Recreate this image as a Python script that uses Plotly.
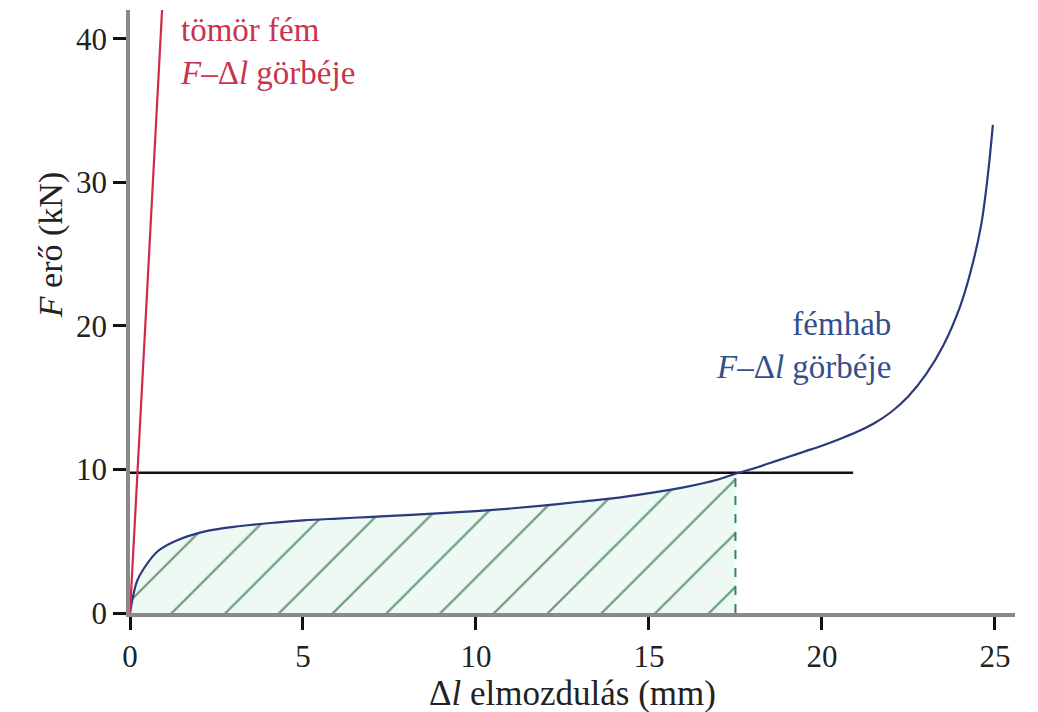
import plotly.graph_objects as go

# Data
foam_dl = [0, 0.1, 0.2, 0.4, 0.8, 1.3, 2.2, 3.2, 4.2, 5, 6, 7, 8, 9, 10, 11, 12, 13, 14, 15, 16, 17, 17.5,
           18, 18.5, 19, 19.5, 20, 20.5, 21, 21.5, 22, 22.5, 23, 23.5, 24, 24.3, 24.6, 24.8, 24.94]
foam_F = [0, 1.3, 2.2, 3.1, 4.3, 5.0, 5.7, 6.06, 6.3, 6.45, 6.58, 6.7, 6.82, 6.95, 7.1, 7.28, 7.5, 7.75, 8.0, 8.35, 8.75, 9.3, 9.7,
          10.05, 10.45, 10.85, 11.25, 11.65, 12.1, 12.6, 13.2, 14.0, 15.1, 16.6, 18.6, 21.4, 23.8, 27.0, 30.6, 34.0]
solid_dl = [0, 0.96]
solid_F = [0, 43.5]
level_F = 9.76
level_end = 20.9
energy_end = 17.5

x_ticks = [0, 5, 10, 15, 20, 25]
y_ticks = [0, 10, 20, 30, 40]

FONT = "Liberation Serif"

fill_x = [x for x in foam_dl if x <= energy_end]
fill_y = [y for x, y in zip(foam_dl, foam_F) if x <= energy_end]

fig = go.Figure()

fig.add_trace(go.Scatter(
    x=fill_x, y=fill_y, mode="lines", line=dict(width=0, shape="spline"),
    fill="tozeroy",
    fillpattern=dict(shape="/", fgcolor="#6a9a82", fgopacity=1, bgcolor="#eef9f4", size=38, solidity=0.06),
    hoverinfo="skip", showlegend=False))

fig.add_trace(go.Scatter(
    x=[0, level_end], y=[level_F, level_F], mode="lines",
    line=dict(color="#111111", width=2.5), showlegend=False))

fig.add_trace(go.Scatter(
    x=[energy_end, energy_end], y=[0, level_F], mode="lines",
    line=dict(color="#2f8a5c", width=2, dash="dash"), showlegend=False))

fig.add_trace(go.Scatter(
    x=foam_dl, y=foam_F, mode="lines",
    line=dict(color="#2b3a7a", width=2.2, shape="spline"), showlegend=False))

fig.add_trace(go.Scatter(
    x=solid_dl, y=solid_F, mode="lines",
    line=dict(color="#d02a4a", width=2.2), showlegend=False))

fig.add_annotation(
    x=1.39, y=39.1, xref="x", yref="y", xanchor="left", yanchor="middle", align="left",
    text="tömör fém<br><i>F</i>–Δ<i>l</i> görbéje", showarrow=False,
    font=dict(family=FONT, size=33, color="#c8344e"))

fig.add_annotation(
    x=22.05, y=18.6, xref="x", yref="y", xanchor="right", yanchor="middle", align="right",
    text="fémhab<br><i>F</i>–Δ<i>l</i> görbéje", showarrow=False,
    font=dict(family=FONT, size=33, color="#34508a"))

fig.add_annotation(
    x=-0.113, y=0.61, xref="paper", yref="paper", textangle=-90,
    text="<i>F</i> erő (kN)", showarrow=False,
    font=dict(family=FONT, size=34, color="#222222"))

fig.update_layout(
    width=1038, height=712,
    margin=dict(l=122, r=31, t=2, b=107),
    paper_bgcolor="white", plot_bgcolor="white",
    font=dict(family=FONT, size=31, color="#222222"),
    xaxis=dict(range=[0, 25.58], tickvals=x_ticks, ticks="outside", ticklen=13, tickwidth=2.5,
               tickcolor="#111111", showline=True, linecolor="#8a8a8a", linewidth=3.5,
               showgrid=False, zeroline=False,
               title=dict(text="Δ<i>l</i> elmozdulás (mm)", font=dict(family=FONT, size=35), standoff=4)),
    yaxis=dict(range=[0, 42.0], tickvals=y_ticks, ticks="outside", ticklen=13, tickwidth=2.5,
               tickcolor="#111111", showline=True, linecolor="#8a8a8a", linewidth=3.5,
               showgrid=False, zeroline=False),
)

fig.write_html("out.html")
